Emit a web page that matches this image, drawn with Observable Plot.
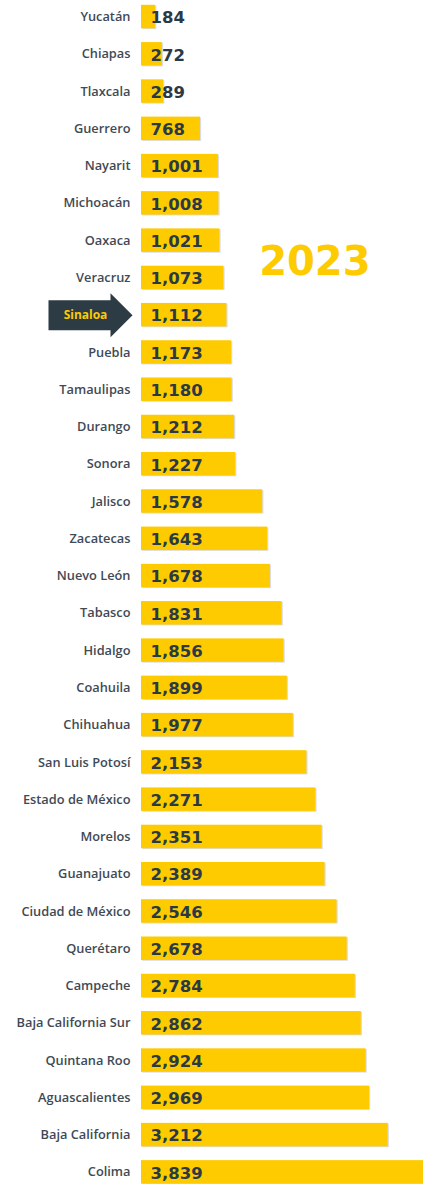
<!DOCTYPE html>
<html>
<head>
<meta charset="utf-8">
<script src="https://cdn.jsdelivr.net/npm/d3@7"></script>
<script src="https://cdn.jsdelivr.net/npm/@observablehq/plot@0.6"></script>
<style>
  html, body { margin: 0; padding: 0; background: #fff; }
  #chart svg { display: block; }
</style>
</head>
<body>
<div id="chart"></div>
<script>
const states = ["Yucatán","Chiapas","Tlaxcala","Guerrero","Nayarit","Michoacán","Oaxaca","Veracruz","Sinaloa","Puebla","Tamaulipas","Durango","Sonora","Jalisco","Zacatecas","Nuevo León","Tabasco","Hidalgo","Coahuila","Chihuahua","San Luis Potosí","Estado de México","Morelos","Guanajuato","Ciudad de México","Querétaro","Campeche","Baja California Sur","Quintana Roo","Aguascalientes","Baja California","Colima"];
const values = [184,272,289,768,1001,1008,1021,1073,1112,1173,1180,1212,1227,1578,1643,1678,1831,1856,1899,1977,2153,2271,2351,2389,2546,2678,2784,2862,2924,2969,3212,3839];
const highlight = ["Sinaloa"];
const yearLabel = ["2023"];

const data = states.map((s, i) => ({state: s, value: values[i]}));
const fmt = d3.format(",");

const arrowSymbol = {
  draw(ctx) {
    ctx.moveTo(-42, -15);
    ctx.lineTo(20, -15);
    ctx.lineTo(20, -22);
    ctx.lineTo(42, 0);
    ctx.lineTo(20, 22);
    ctx.lineTo(20, 15);
    ctx.lineTo(-42, 15);
    ctx.closePath();
  }
};

const plot = Plot.plot({
  width: 423,
  height: 1184,
  marginLeft: 141,
  marginRight: 0,
  marginTop: 0,
  marginBottom: 0,
  style: {fontFamily: "'Open Sans', sans-serif", background: "#fff"},
  x: {domain: [0, 3672], axis: null},
  y: {domain: states, range: [4.8, 1183.6], paddingInner: 0.37, paddingOuter: 0, round: false, axis: null},
  marks: [
    Plot.barX(data, {x: "value", y: "state", fill: "#dcdcdc", dx: 1.2, dy: 0.8, clip: true}),
    Plot.barX(data, {x: "value", y: "state", fill: "#fecb00", clip: true}),
    Plot.text(data, {x: 0, y: "state", text: d => fmt(d.value), textAnchor: "start", dx: 9, dy: 1,
      fill: "#2b3945", fontSize: 16.5, fontWeight: 700, fontFamily: "'DejaVu Sans', sans-serif"}),
    Plot.text(data.filter(d => !highlight.includes(d.state)), {x: 0, y: "state", text: "state", textAnchor: "end", dx: -11,
      fill: "#3f4a54", fontSize: 12.8, fontWeight: 600}),
    Plot.dot(data.filter(d => highlight.includes(d.state)), {x: 0, y: "state", dx: -51, symbol: arrowSymbol, fill: "#2d3b45", stroke: "none"}),
    Plot.text(data.filter(d => highlight.includes(d.state)), {x: 0, y: "state", text: "state", dx: -56, dy: 0,
      fill: "#fecb00", fontSize: 12, fontWeight: 700}),
    Plot.text(yearLabel, {frameAnchor: "top-right", text: d => d, dx: -53, dy: 262, lineAnchor: "middle",
      fill: "#fecb00", fontSize: 40, fontWeight: 700, fontFamily: "'DejaVu Sans', sans-serif"})
  ]
});
document.getElementById("chart").appendChild(plot);
</script>
</body>
</html>
